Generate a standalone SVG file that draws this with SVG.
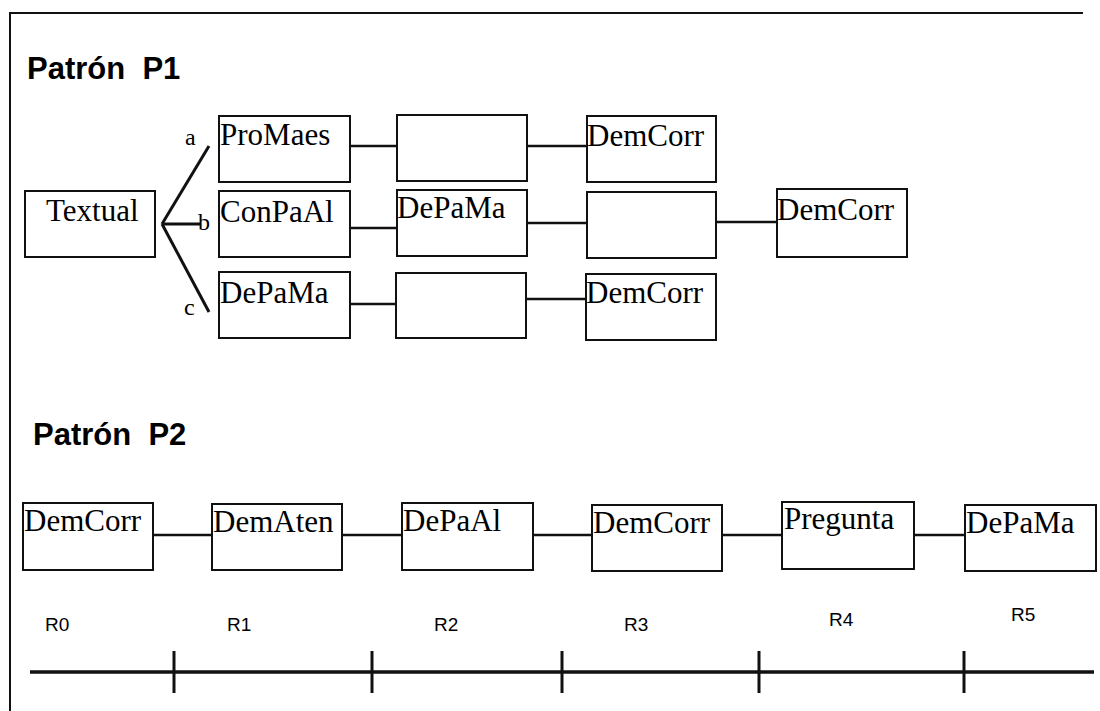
<svg xmlns="http://www.w3.org/2000/svg" width="1100" height="711" viewBox="0 0 1100 711">
<style>
.bg{fill:#fff}
.box{fill:#fff;stroke:#111;stroke-width:2}
.lbl{font-family:"Liberation Serif","Times New Roman",serif;font-size:31px;fill:#000}
.ttl{font-family:"Liberation Sans",Arial,sans-serif;font-size:31px;font-weight:bold;fill:#000;white-space:pre}
.br{font-family:"Liberation Serif","Times New Roman",serif;font-size:24px;fill:#000}
.r{font-family:"Liberation Sans",Arial,sans-serif;font-size:19px;fill:#000}
.ln{stroke:#111;stroke-width:2.5;fill:none}
.fan{stroke:#111;stroke-width:3;fill:none}
.tl{stroke:#111;stroke-width:3.5;fill:none}
.tk{stroke:#111;stroke-width:3;fill:none}
.frame{stroke:#111;stroke-width:2;fill:none}
</style>
<rect class="bg" x="0" y="0" width="1100" height="711"/>
<g id="frame">
<path class="frame" d="M10 711 V13 H1083"/>
</g>
<g id="titles">
<text class="ttl" x="27" y="79" xml:space="preserve">Patrón  P1</text>
<text class="ttl" x="33" y="445" xml:space="preserve">Patrón  P2</text>
</g>
<g id="connectors">
<line class="fan" x1="162" y1="224" x2="209" y2="146"/>
<line class="fan" x1="162" y1="224" x2="201" y2="224"/>
<line class="fan" x1="162" y1="224" x2="209" y2="312"/>
<line class="ln" x1="350" y1="146" x2="397" y2="146"/>
<line class="ln" x1="527" y1="146" x2="587" y2="146"/>
<line class="ln" x1="350" y1="228" x2="397" y2="228"/>
<line class="ln" x1="527" y1="223" x2="587" y2="223"/>
<line class="ln" x1="716" y1="222" x2="777" y2="222"/>
<line class="ln" x1="350" y1="304" x2="396" y2="304"/>
<line class="ln" x1="526" y1="299" x2="586" y2="299"/>
<line class="ln" x1="153" y1="535" x2="212" y2="535"/>
<line class="ln" x1="342" y1="535" x2="402" y2="535"/>
<line class="ln" x1="533" y1="535" x2="592" y2="535"/>
<line class="ln" x1="722" y1="535" x2="782" y2="535"/>
<line class="ln" x1="914" y1="535" x2="965" y2="535"/>
</g>
<g id="branch-labels">
<text class="br" x="185" y="145">a</text>
<text class="br" x="198" y="230">b</text>
<text class="br" x="184" y="315">c</text>
</g>
<g id="n-textual"><rect class="box" x="25" y="191" width="130" height="66"/><text class="lbl" x="46" y="221">Textual</text></g>
<g id="n-a1"><rect class="box" x="219" y="116" width="131" height="66"/><text class="lbl" x="220" y="145">ProMaes</text></g>
<g id="n-a2"><rect class="box" x="397" y="115" width="130" height="66"/></g>
<g id="n-a3"><rect class="box" x="587" y="116" width="129" height="66"/><text class="lbl" x="587" y="146">DemCorr</text></g>
<g id="n-b1"><rect class="box" x="219" y="191" width="131" height="66"/><text class="lbl" x="220" y="222">ConPaAl</text></g>
<g id="n-b2"><rect class="box" x="397" y="190" width="130" height="66"/><text class="lbl" x="397" y="218">DePaMa</text></g>
<g id="n-b3"><rect class="box" x="587" y="192" width="129" height="66"/></g>
<g id="n-b4"><rect class="box" x="777" y="189" width="130" height="68"/><text class="lbl" x="777" y="220">DemCorr</text></g>
<g id="n-c1"><rect class="box" x="219" y="272" width="131" height="66"/><text class="lbl" x="220" y="303">DePaMa</text></g>
<g id="n-c2"><rect class="box" x="396" y="273" width="130" height="65"/></g>
<g id="n-c3"><rect class="box" x="586" y="274" width="130" height="66"/><text class="lbl" x="586" y="303">DemCorr</text></g>
<g id="n-p2-1"><rect class="box" x="23" y="503" width="130" height="67"/><text class="lbl" x="24" y="531">DemCorr</text></g>
<g id="n-p2-2"><rect class="box" x="212" y="504" width="130" height="66"/><text class="lbl" x="213" y="532">DemAten</text></g>
<g id="n-p2-3"><rect class="box" x="402" y="503" width="131" height="67"/><text class="lbl" x="403" y="531">DePaAl</text></g>
<g id="n-p2-4"><rect class="box" x="592" y="505" width="130" height="66"/><text class="lbl" x="593" y="533">DemCorr</text></g>
<g id="n-p2-5"><rect class="box" x="782" y="502" width="132" height="67"/><text class="lbl" x="784" y="529">Pregunta</text></g>
<g id="n-p2-6"><rect class="box" x="965" y="505" width="131" height="66"/><text class="lbl" x="966" y="533">DePaMa</text></g>
<g id="timeline">
<line class="tl" x1="30" y1="672" x2="1094" y2="672"/>
<line class="tk" x1="174" y1="651" x2="174" y2="693"/>
<line class="tk" x1="372" y1="651" x2="372" y2="693"/>
<line class="tk" x1="562" y1="651" x2="562" y2="693"/>
<line class="tk" x1="759" y1="651" x2="759" y2="693"/>
<line class="tk" x1="964" y1="651" x2="964" y2="693"/>
<text class="r" x="45" y="631">R0</text>
<text class="r" x="227" y="631">R1</text>
<text class="r" x="434" y="631">R2</text>
<text class="r" x="624" y="631">R3</text>
<text class="r" x="829" y="626">R4</text>
<text class="r" x="1011" y="621">R5</text>
</g>
</svg>
